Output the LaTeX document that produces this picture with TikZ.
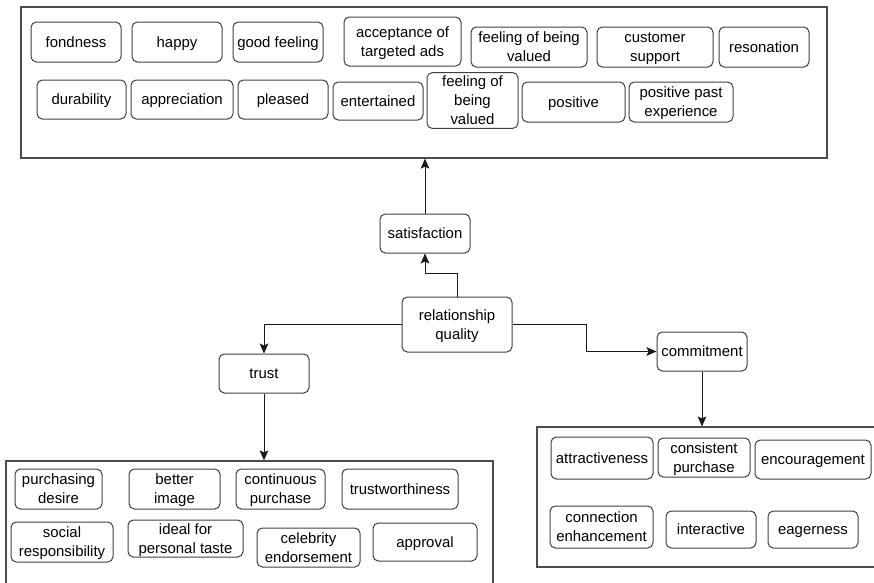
\documentclass[tikz,border=0pt]{standalone}
\usepackage{fontspec}
\setmainfont{Liberation Sans}
\usetikzlibrary{arrows.meta}

% strut that gives each text line an even line box, so text sits centred
\newcommand\linestrut{\rule[-2.9pt]{0pt}{13.5pt}}

% a rounded label box given by its corner coordinates (x1,y1)-(x2,y2)
\newcommand\tagbox[6]{%
  \node[tag, minimum width={(#4-#2)*0.75pt}, minimum height={(#5-#3)*0.75pt}]
    (#1) at ({(#2+#4)/2},{(#3+#5)/2}) {\linestrut#6\linestrut};}
% a plain grouping frame given by its corner coordinates
\newcommand\groupframe[5]{%
  \node[frame, minimum width={(#4-#2)*0.75pt}, minimum height={(#5-#3)*0.75pt}]
    (#1) at ({(#2+#4)/2},{(#3+#5)/2}) {};}

\tikzset{
  tag/.style={draw=black!75, line width=0.75pt, rounded corners=4pt,
    align=center, inner sep=0pt, font=\fontsize{11.2}{14.2}\selectfont},
  frame/.style={draw=black!70, line width=0.9pt, inner sep=0pt},
  link/.style={draw=black!90, line width=0.75pt,
    -{Stealth[length=7.5pt,width=6.5pt,inset=1.5pt]}},
}

\begin{document}
\begin{tikzpicture}[x=0.75pt,y=-0.75pt]
\useasboundingbox (0,0) rectangle (874,582);
\clip (0,0) rectangle (874,582);

% grouping frames
\groupframe{satgroup}{21}{7}{827}{158}
\groupframe{trustgroup}{6}{461}{493}{610}
\groupframe{commitgroup}{537}{427}{900}{567}

% satisfaction items, first row
\tagbox{fondness}{31}{22}{121}{62}{fondness}
\tagbox{happy}{132}{22}{222}{62}{happy}
\tagbox{goodfeeling}{233}{22}{323}{62}{good feeling}
\tagbox{targetedads}{344}{17}{461}{66}{acceptance of\\targeted ads}
\tagbox{valuedA}{471}{27}{587}{67}{feeling of being\\valued}
\tagbox{support}{597}{27}{713}{67}{customer\\support}
\tagbox{resonation}{719}{27}{809}{67}{resonation}

% satisfaction items, second row
\tagbox{durability}{37}{80}{126}{119}{durability}
\tagbox{appreciation}{131}{80}{233}{119}{appreciation}
\tagbox{pleased}{238}{80}{328}{119}{pleased}
\tagbox{entertained}{333}{82}{423}{120}{entertained}
\tagbox{valuedB}{427}{73}{518}{128}{feeling of\\being\\valued}
\tagbox{positive}{522}{82}{625}{122}{positive}
\tagbox{pastexp}{629}{82}{733}{122}{positive past\\experience}

% central concepts
\tagbox{satisfaction}{380}{214}{470}{253}{satisfaction}
\tagbox{rq}{402}{297}{512}{352}{relationship\\quality}
\tagbox{trust}{219}{354}{309}{393}{trust}
\tagbox{commitment}{657}{332}{747}{371}{commitment}

% trust items
\tagbox{desire}{15}{469}{102}{509}{purchasing\\desire}
\tagbox{image}{129}{469}{220}{509}{better\\image}
\tagbox{contpurchase}{236}{469}{325}{509}{continuous\\purchase}
\tagbox{trustworthy}{342}{469}{458}{509}{trustworthiness}
\tagbox{social}{11}{522}{113}{562}{social\\responsibility}
\tagbox{taste}{128}{520}{243}{557}{ideal for\\personal taste}
\tagbox{celebrity}{257}{528}{360}{567}{celebrity\\endorsement}
\tagbox{approval}{373}{523}{477}{561}{approval}

% commitment items
\tagbox{attractive}{551}{437}{653}{479}{attractiveness}
\tagbox{conspurchase}{658}{438}{750}{477}{consistent\\purchase}
\tagbox{encouragement}{755}{440}{871}{479}{encouragement}
\tagbox{connection}{550}{506}{653}{548}{connection\\enhancement}
\tagbox{interactive}{666}{511}{756}{548}{interactive}
\tagbox{eagerness}{768}{511}{858}{548}{eagerness}

% connectors
\coordinate (upbend) at (457,273);
\coordinate (rightbend) at (586,324.5);
\draw[link] (satisfaction.north) -- (satisfaction.north |- satgroup.south);
\draw[link] (rq.north) -- (upbend) -| (satisfaction.south);
\draw[link] (rq.west) -| (trust.north);
\draw[link] (rq.east) -- (rightbend) |- (commitment.west);
\draw[link] (trust.south) -- (trust.south |- trustgroup.north);
\draw[link] (commitment.south) -- (commitment.south |- commitgroup.north);
\end{tikzpicture}
\end{document}
